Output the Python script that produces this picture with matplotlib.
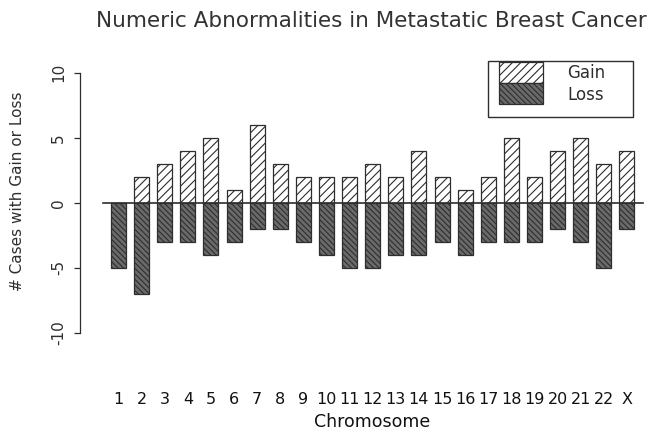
import matplotlib
matplotlib.use("Agg")
import matplotlib.pyplot as plt
from matplotlib.patches import Rectangle

chromosomes = [str(i) for i in range(1, 23)] + ["X"]
gains = [0, 2, 3, 4, 5, 1, 6, 3, 2, 2, 2, 3, 2, 4, 2, 1, 2, 5, 2, 4, 5, 3, 4]
losses = [-5, -7, -3, -3, -4, -3, -2, -2, -3, -4, -5, -5, -4, -4, -3, -4, -3,
          -3, -3, -2, -3, -5, -2]

INK = "#2e2e2e"
LOSS_FILL = "#6a6a6a"
GAIN_HATCH = "////"
LOSS_HATCH = "\\" * 6

plt.rcParams["font.family"] = ["DejaVu Sans"]
plt.rcParams["hatch.linewidth"] = 0.8

W, H = 652, 437
fig = plt.figure(figsize=(W / 100, H / 100), dpi=100)
fig.patch.set_facecolor("white")

# plot region in pixels: x 80..644, y 60..346
ax = fig.add_axes([80 / W, 1 - 345.7 / H, 564 / W, 286 / H])
x = list(range(len(chromosomes)))
ax.bar(x, gains, width=0.65, color="white", edgecolor=INK, linewidth=0.9,
       hatch=GAIN_HATCH)
ax.bar(x, losses, width=0.65, color=LOSS_FILL, edgecolor=INK, linewidth=0.9,
       hatch=LOSS_HATCH)
ax.plot([-0.67, 22.7], [0, 0], color=INK, linewidth=1.2, clip_on=False)

ax.set_xlim(-1.666, 22.74)
ax.set_ylim(-11, 11)
for side in ("top", "right", "bottom"):
    ax.spines[side].set_visible(False)
ax.spines["left"].set_bounds(-10, 10)
ax.spines["left"].set_color(INK)
ax.spines["left"].set_linewidth(0.9)

ax.set_yticks([-10, -5, 0, 5, 10])
ax.set_yticklabels(["-10", "-5", "0", "5", "10"], rotation=90, va="center")
ax.tick_params(axis="y", length=4, width=0.9, color=INK, pad=6,
               labelsize=11, labelcolor=INK)
ax.set_xticks(x)
ax.set_xticklabels(chromosomes)
ax.tick_params(axis="x", length=0, pad=33, labelsize=11.5, labelcolor="#111")

ax.set_ylabel("# Cases with Gain or Loss", fontsize=11, color=INK)
ax.yaxis.set_label_coords(-0.097, 0.541)
ax.set_xlabel("Chromosome", fontsize=12.5, color="#111")
ax.xaxis.set_label_coords(0.518, -0.267)
ax.xaxis.label.set_va("center")

fig.text(371 / W, 1 - 27 / H, "Numeric Abnormalities in Metastatic Breast Cancer",
         ha="center", va="baseline", fontsize=15.5, color="#333")

# legend box drawn in its own pixel-scaled axes
lg = fig.add_axes([488 / W, 1 - 117 / H, 145 / W, 56 / H])
lg.set_xlim(0, 145)
lg.set_ylim(56, 0)
lg.axis("off")
lg.add_patch(Rectangle((0, 0), 145, 56, facecolor="white", edgecolor=INK,
                       linewidth=1.0, clip_on=False))
lg.add_patch(Rectangle((11, 1), 44, 21, facecolor="white", edgecolor=INK,
                       linewidth=0.9, hatch=GAIN_HATCH))
lg.add_patch(Rectangle((11, 22), 44, 21, facecolor=LOSS_FILL, edgecolor=INK,
                       linewidth=0.9, hatch=LOSS_HATCH))
lg.text(79, 12, "Gain", fontsize=12, va="center", ha="left", color=INK)
lg.text(79, 34, "Loss", fontsize=12, va="center", ha="left", color=INK)

fig.savefig("out.png", dpi=100, facecolor="white")
